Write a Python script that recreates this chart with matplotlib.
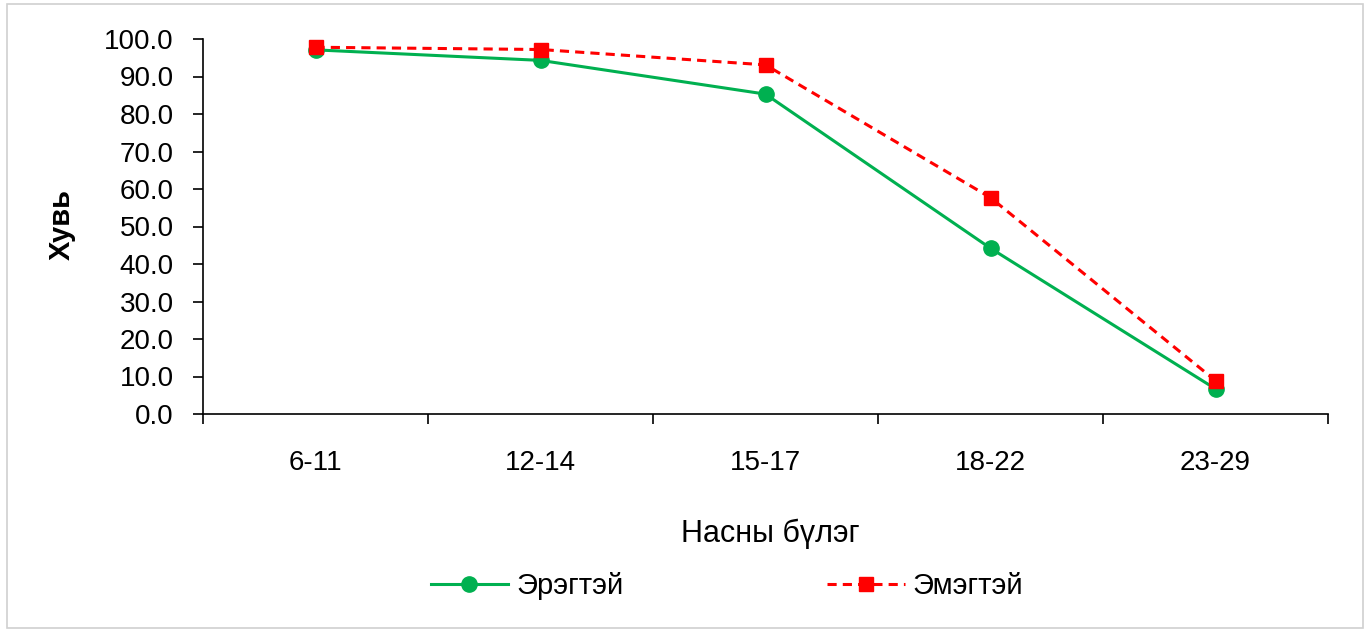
import numpy as np
import matplotlib.pyplot as plt
from matplotlib.patches import Rectangle

plt.rcParams['font.family'] = ['Liberation Sans', 'DejaVu Sans']

# Насны бүлэг
age_groups = ['6-11', '12-14', '15-17', '18-22', '23-29']
# Хувь
male = [97.1, 94.3, 85.3, 44.2, 6.7]
female = [97.8, 97.2, 93.1, 57.7, 8.9]
y_ticks = np.arange(0, 101, 10)

fig = plt.figure(figsize=(13.68, 6.32), dpi=100)
fig.patches.append(Rectangle((7 / 1368, 4 / 632), 1356 / 1368, 624 / 632,
                             transform=fig.transFigure, fill=False,
                             edgecolor='#d0d0d0', linewidth=1.2))

ax = fig.add_axes([203 / 1368, 1 - 414 / 632, 1125 / 1368, 375 / 632])
x = np.arange(len(age_groups))
ax.plot(x, male, color='#00b050', linewidth=2.2, marker='o', markersize=11,
        label='Эрэгтэй')
ax.plot(x, female, color='#ff0000', linewidth=2.2, linestyle=(0, (3, 2)),
        marker='s', markersize=9.5, label='Эмэгтэй')

ax.set_xlim(-0.5, len(age_groups) - 0.5)
ax.set_ylim(0, 100)
ax.set_yticks(y_ticks)
ax.set_yticklabels([f'{v:.1f}' for v in y_ticks])
ax.set_xticks(x)
ax.set_xticklabels(age_groups)
ax.set_xticks(np.arange(-0.5, len(age_groups)), minor=True)
ax.tick_params(axis='x', which='major', length=0, pad=26, labelsize=20)
ax.tick_params(axis='x', which='minor', length=7, width=1.2, direction='out')
ax.tick_params(axis='y', length=7, width=1.2, pad=14, labelsize=20)
for s in ['top', 'right']:
    ax.spines[s].set_visible(False)
for s in ['left', 'bottom']:
    ax.spines[s].set_linewidth(1.2)

fig.text(62 / 1368, 1 - 225 / 632, 'Хувь', rotation=90, ha='center', va='center',
         fontsize=21, fontweight='bold')
fig.text(770 / 1368, 1 - 534 / 632, 'Насны бүлэг', ha='center', va='center',
         fontsize=22)

fig.legend(loc='center', bbox_to_anchor=(727 / 1368, 1 - 586 / 632), ncol=2,
           frameon=False, fontsize=21, handlelength=2.65, handletextpad=0.28,
           columnspacing=7.0)

plt.savefig('out.png', dpi=100)
